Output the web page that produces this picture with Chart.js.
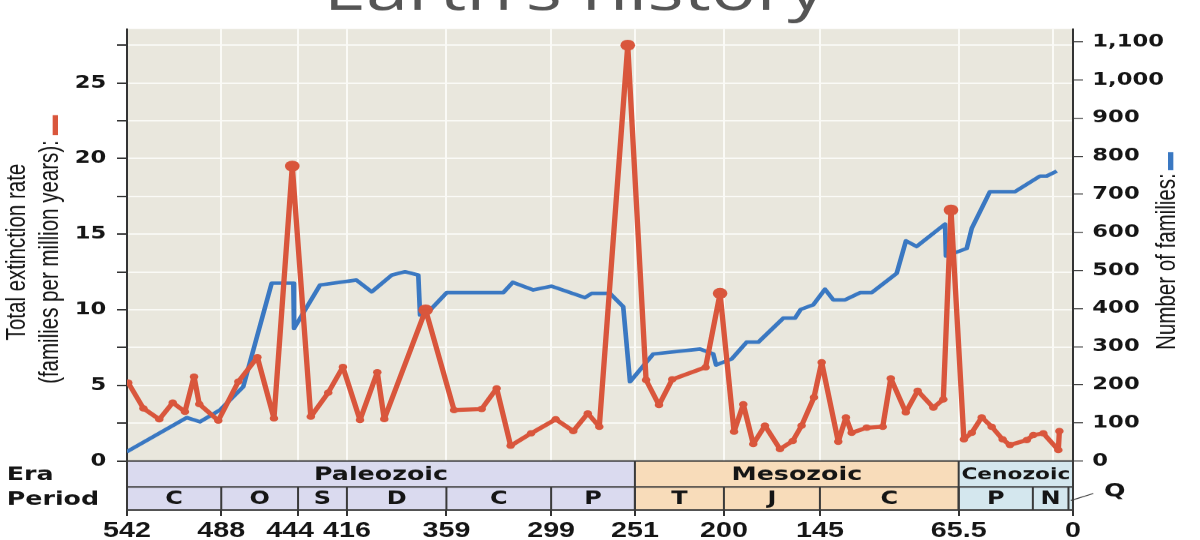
<!DOCTYPE html>
<html>
<head>
<meta charset="utf-8">
<script src="https://cdn.jsdelivr.net/npm/chart.js@4.4.1/dist/chart.umd.min.js"></script>
<style>
html, body { margin: 0; padding: 0; background: #fff; overflow: hidden; }
/* the source picture is a 4:3 slide shown stretched to 16:9 */
#wrap { width: 900px; height: 540px; transform: scaleX(1.3333333); transform-origin: 0 0; }
</style>
</head>
<body>
<div id="wrap"><canvas id="chart" width="900" height="540"></canvas></div>
<script>
// extinction rate (families per million years) by age in Ma
var extMa = [541.3, 532.6, 523.5, 515.8, 508.8, 503.6, 500.6, 489.7, 478.2, 467.3, 457.8, 447.3, 436.7, 426.7, 418.3,
    408.5, 398.6, 394.6, 370.9, 354.6, 338.8, 330.2, 322.2, 310.5, 296.4, 286.3, 278.0, 271.4, 255.1, 244.6, 237.2,
    229.6, 210.5, 202.2, 194.2, 188.9, 183.2, 176.5, 167.9, 160.6, 155.5, 148.4, 144.0, 134.5, 130.1, 126.8, 118.2,
    109.0, 104.4, 95.8, 89.0, 80.0, 74.3, 69.9, 62.5, 58.0, 52.3, 46.6, 40.3, 36.1, 26.5, 22.7, 17.0, 8.4, 7.8];
var extRate = [5.18, 3.48, 2.76, 3.86, 3.26, 5.58, 3.77, 2.67, 5.25, 6.86, 2.82, 19.5, 2.93, 4.52, 6.22,
    2.71, 5.87, 2.78, 9.99, 3.37, 3.44, 4.81, 1.01, 1.83, 2.76, 1.98, 3.15, 2.27, 27.5, 5.36, 3.70,
    5.40, 6.20, 11.09, 1.94, 3.75, 1.12, 2.34, 0.79, 1.32, 2.34, 4.21, 6.53, 1.28, 2.89, 1.87, 2.20,
    2.27, 5.47, 3.22, 4.65, 3.53, 4.08, 16.6, 1.43, 1.87, 2.89, 2.27, 1.43, 1.06, 1.39, 1.72, 1.83, 0.73, 1.98];

// number of families by age in Ma
var famMa = [542.2, 507.8, 500.2, 488.7, 475.4, 459.1, 446.7, 446.3, 431.4, 410.6, 401.8, 390.3, 382.7, 375.1, 374.1,
    368.4, 358.8, 326.4, 321.0, 309.2, 298.7, 279.6, 275.8, 265.3, 257.7, 253.8, 240.5, 213.7, 206.1, 204.5, 195.5,
    187.0, 180.3, 166.0, 159.3, 156.0, 148.8, 142.1, 137.3, 130.6, 122.0, 115.3, 101.0, 95.7, 89.6, 73.3, 72.8,
    60.9, 58.0, 47.6, 33.2, 18.9, 15.1, 9.3];
var famCount = [24, 114, 103, 134, 195, 467, 467, 348, 462, 475, 444, 488, 497, 488, 383,
    396, 442, 442, 469, 449, 459, 429, 440, 440, 405, 208, 281, 294, 281, 252, 268,
    312, 312, 375, 375, 398, 410, 451, 423, 423, 442, 442, 493, 578, 563, 622, 538,
    558, 611, 707, 707, 748, 748, 761];

var xTicks = [542, 488, 444, 416, 359, 299, 251, 200, 145, 65.5, 11.5, 0];
var eraNames = ['Paleozoic', 'Mesozoic', 'Cenozoic'];
var eraBounds = [542, 251, 65.5, 0];
var periodNames = ['C', 'O', 'S', 'D', 'C', 'P', 'T', 'J', 'C', 'P', 'N', 'Q'];
var periodBounds = [542, 488, 444, 416, 359, 299, 251, 200, 145, 65.5, 23, 2.6, 0];

var red = '#d9563c', blue = '#3a78c2', ink = '#151515';
var eraColors = ['#dadaef', '#f8dcba', '#d4e7ee'];

var extPts = [], famPts = [];
for (var i = 0; i < extMa.length; i++) extPts.push({x: extMa[i], y: extRate[i]});
for (i = 0; i < famMa.length; i++) famPts.push({x: famMa[i], y: famCount[i]});

function line(c, x0, y0, x1, y1) {
    c.beginPath(); c.moveTo(x0, y0); c.lineTo(x1, y1); c.stroke();
}

var decor = {
    id: 'decor',
    beforeDraw: function (chart) {
        var a = chart.chartArea, c = chart.ctx;
        c.save();
        c.fillStyle = '#e9e7dd';
        c.fillRect(a.left, a.top, a.right - a.left, a.bottom - a.top);
        c.restore();
    },
    beforeDatasetsDraw: function (chart) {
        var c = chart.ctx, x = chart.scales.x, a = chart.chartArea;
        var top = chart.scales.yL.getPixelForValue(0), mid = top + 26, bot = a.bottom;
        var k, x0, x1, size;
        c.save();
        c.textAlign = 'center';
        c.textBaseline = 'middle';
        for (k = 0; k < eraNames.length; k++) {
            x0 = x.getPixelForValue(eraBounds[k]);
            x1 = x.getPixelForValue(eraBounds[k + 1]);
            c.fillStyle = eraColors[k];
            c.fillRect(x0, top, x1 - x0, bot - top);
            // shrink the name if the box is narrow (Cenozoic)
            c.font = 'bold 19px "DejaVu Sans"';
            size = Math.min(19, 19 * (x1 - x0 - 4) / c.measureText(eraNames[k]).width);
            c.font = 'bold ' + size.toFixed(1) + 'px "DejaVu Sans"';
            c.fillStyle = ink;
            c.fillText(eraNames[k], (x0 + x1) / 2, (top + mid) / 2 + 1);
        }
        c.font = 'bold 18px "DejaVu Sans"';
        for (k = 0; k < periodNames.length - 1; k++) {
            x0 = x.getPixelForValue(periodBounds[k]);
            x1 = x.getPixelForValue(periodBounds[k + 1]);
            c.fillText(periodNames[k], (x0 + x1) / 2, (mid + bot) / 2 + 1);
        }
        c.strokeStyle = '#3a3a3a';
        c.lineWidth = 1.5;
        c.strokeRect(a.left, top, a.right - a.left, bot - top);
        line(c, a.left, mid, a.right, mid);
        for (k = 1; k < eraBounds.length - 1; k++) {
            x0 = x.getPixelForValue(eraBounds[k]);
            line(c, x0, top, x0, bot);
        }
        for (k = 1; k < periodBounds.length - 1; k++) {
            x0 = x.getPixelForValue(periodBounds[k]);
            line(c, x0, mid, x0, bot);
        }
        // row names and the Q call-out
        c.font = 'bold 19px "DejaVu Sans"';
        c.textAlign = 'left';
        c.fillText('Era', 5, (top + mid) / 2 + 1);
        c.fillText('Period', 5, (mid + bot) / 2 + 1);
        c.lineWidth = 1;
        line(c, x.getPixelForValue(1.3), (mid + bot) / 2 + 2, 820, (mid + bot) / 2 - 5);
        c.textAlign = 'center';
        c.fillText('Q', 836, (mid + bot) / 2 - 7);
        c.restore();
    },
    afterDraw: function (chart) {
        var c = chart.ctx, w, end;
        c.save();
        c.fillStyle = '#555555';
        c.textAlign = 'center';
        c.textBaseline = 'alphabetic';
        c.font = '57px "Open Sans"';
        c.fillText("Earth\u2019s history", 431, 10);

        c.fillStyle = ink;
        c.font = '20.5px "Liberation Sans"';
        c.save(); c.translate(19, 252); c.rotate(-Math.PI / 2);
        c.fillText('Total extinction rate', 0, 0); c.restore();
        c.save(); c.translate(43.5, 262); c.rotate(-Math.PI / 2);
        c.fillText('(families per million years):', 0, 0); c.restore();
        w = c.measureText('(families per million years):').width;
        end = 262 - w / 2;
        c.fillStyle = red;
        c.fillRect(39.5, end - 25, 4, 20);

        c.fillStyle = ink;
        c.save(); c.translate(881, 261.5); c.rotate(-Math.PI / 2);
        c.fillText('Number of families:', 0, 0); c.restore();
        w = c.measureText('Number of families:').width;
        end = 261.5 - w / 2;
        c.fillStyle = blue;
        c.fillRect(876, end - 21, 4, 18);
        c.restore();
    }
};

var ctx = document.getElementById('chart').getContext('2d');
var tickFont = {family: 'DejaVu Sans', weight: 'bold', size: 17};

new Chart(ctx, {
    type: 'line',
    data: {
        datasets: [{
            label: 'Total extinction rate',
            data: extPts,
            yAxisID: 'yL',
            borderColor: red,
            backgroundColor: red,
            borderWidth: 4,
            borderJoinStyle: 'round',
            borderCapStyle: 'round',
            pointRadius: function (c) { return c.raw && c.raw.y > 9 ? 5.5 : 3.2; },
            pointBorderWidth: 0,
            pointBackgroundColor: red,
            tension: 0
        }, {
            label: 'Number of families',
            data: famPts,
            yAxisID: 'yR',
            borderColor: blue,
            borderWidth: 3.5,
            borderJoinStyle: 'round',
            pointRadius: 0,
            tension: 0
        }]
    },
    options: {
        responsive: false,
        devicePixelRatio: 4 / 3,
        animation: false,
        events: [],
        layout: {padding: {top: 29, left: 0, right: 0, bottom: 0}},
        plugins: {legend: {display: false}, tooltip: {enabled: false}},
        scales: {
            x: {
                type: 'linear',
                reverse: true,
                min: 0,
                max: 542,
                afterBuildTicks: function (s) { s.ticks = xTicks.map(function (v) { return {value: v}; }); },
                afterFit: function (s) { s.height = 30; },
                ticks: {
                    autoSkip: false,
                    maxRotation: 0,
                    padding: 2,
                    color: ink,
                    font: {family: 'Liberation Sans', weight: 'bold', size: 21.5},
                    callback: function (v) {
                        if (v === 11.5) return '';
                        // 444 sits a little left of its tick so it clears 416
                        return v === 444 ? '444\u2007' : String(v);
                    }
                },
                grid: {
                    color: '#fafaf6',
                    lineWidth: 1.5,
                    tickLength: 6,
                    tickColor: function (c) { return c.tick && c.tick.value === 11.5 ? 'rgba(0,0,0,0)' : '#333'; }
                },
                border: {color: '#333', width: 1.5}
            },
            yL: {
                position: 'left',
                min: -3.24,
                max: 28.57,
                afterBuildTicks: function (s) {
                    var t = [];
                    for (var v = 0; v <= 27.5; v += 2.5) t.push({value: v});
                    s.ticks = t;
                },
                afterFit: function (s) { s.width = 95.25; },
                ticks: {
                    padding: 8,
                    color: ink,
                    font: tickFont,
                    callback: function (v) { return v % 5 === 0 ? String(v) : ''; }
                },
                grid: {color: '#fafaf6', lineWidth: 1.5, tickLength: 7.5, tickColor: '#333'},
                border: {color: '#333', width: 1.5}
            },
            yR: {
                position: 'right',
                min: -128.6,
                max: 1134,
                afterBuildTicks: function (s) {
                    var t = [];
                    for (var v = 0; v <= 1100; v += 100) t.push({value: v});
                    s.ticks = t;
                },
                afterFit: function (s) { s.width = 95.25; },
                ticks: {
                    padding: 7,
                    color: ink,
                    font: tickFont,
                    callback: function (v) { return v.toLocaleString('en-US'); }
                },
                grid: {drawOnChartArea: false, tickLength: 7.5, tickColor: '#333'},
                border: {color: '#333', width: 1.5}
            }
        }
    },
    plugins: [decor]
});
</script>
</body>
</html>
